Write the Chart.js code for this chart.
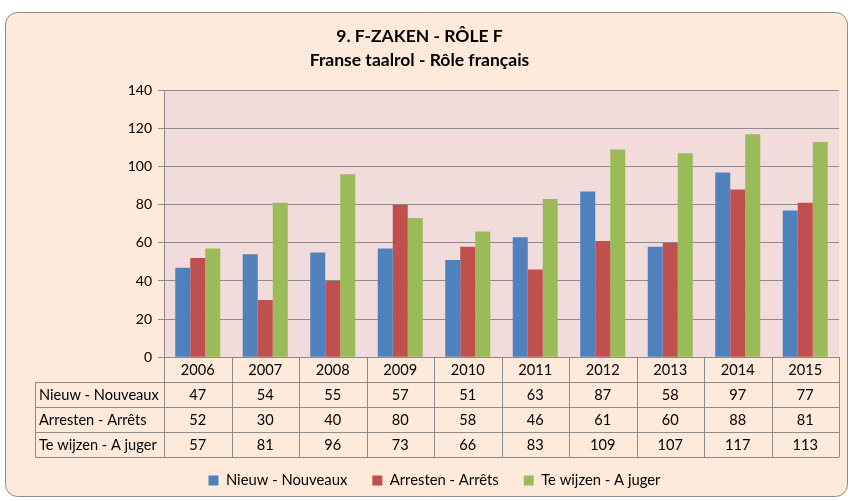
<!DOCTYPE html>
<html>
<head>
<meta charset="utf-8">
<script src="https://cdn.jsdelivr.net/npm/chart.js@4"></script>
<style>
  html, body { margin: 0; padding: 0; background: #fff; }
  #wrap { width: 852px; height: 501px; }
</style>
</head>
<body>
<div id="wrap"><canvas id="fChart" width="852" height="501"></canvas></div>
<script>
const years = ["2006", "2007", "2008", "2009", "2010", "2011", "2012", "2013", "2014", "2015"];
const nieuw = [47, 54, 55, 57, 51, 63, 87, 58, 97, 77];
const arresten = [52, 30, 40, 80, 58, 46, 61, 60, 88, 81];
const teWijzen = [57, 81, 96, 73, 66, 83, 109, 107, 117, 113];
const seriesNames = ["Nieuw - Nouveaux", "Arresten - Arrêts", "Te wijzen - A juger"];
const seriesColors = ["#4F81BD", "#C0504D", "#9BBB59"];

const FONT = "Lato, 'Open Sans', sans-serif";

// fond de la zone + cadre arrondi + zone de tracé rose
const backgroundPlugin = {
    id: "backgroundPlugin",
    afterLayout(chart) {
        // la légende de l'original est un peu décalée à droite
        chart.legend.left += 15;
        chart.legend.right += 15;
    },
    beforeDraw(chart) {
        const c = chart.ctx;
        const a = chart.chartArea;
        c.save();
        c.fillStyle = "#ffffff";
        c.fillRect(0, 0, chart.width, chart.height);
        c.beginPath();
        c.roundRect(5.5, 12.5, 842, 484, 12);
        c.fillStyle = "#FDEADA";
        c.fill();
        c.strokeStyle = "#8c8c8c";
        c.lineWidth = 1;
        c.stroke();
        c.fillStyle = "#F2DCDB";
        c.fillRect(a.left, a.top, a.right - a.left, a.bottom - a.top);
        c.restore();
    }
};

// tableau de données sous l'axe x
const dataTablePlugin = {
    id: "dataTablePlugin",
    afterDraw(chart) {
        const c = chart.ctx;
        const a = chart.chartArea;
        const x = chart.scales.x;
        const colW = (a.right - a.left) / years.length;
        const rowH = 25;
        const top = a.bottom;
        const labelLeft = 35;
        const rows = [nieuw, arresten, teWijzen];
        c.save();
        c.strokeStyle = "#8c8c8c";
        c.lineWidth = 1;
        c.beginPath();
        // lignes horizontales
        for (let r = 1; r <= 4; r++) {
            const y = Math.round(top + r * rowH) + 0.5;
            c.moveTo(labelLeft, y);
            c.lineTo(a.right, y);
        }
        // verticales
        for (let i = 0; i <= years.length; i++) {
            const xx = Math.round(a.left + i * colW) + 0.5;
            c.moveTo(xx, top);
            c.lineTo(xx, top + 4 * rowH);
        }
        c.moveTo(labelLeft + 0.5, top + rowH);
        c.lineTo(labelLeft + 0.5, top + 4 * rowH);
        c.stroke();

        c.fillStyle = "#000";
        c.font = "14.6px " + FONT;
        c.textBaseline = "middle";
        c.textAlign = "center";
        years.forEach(function(yr, i) {
            c.fillText(yr, x.getPixelForValue(i), top + rowH / 2 + 1);
        });
        rows.forEach(function(vals, r) {
            const cy = top + (r + 1) * rowH + rowH / 2 + 1;
            c.textAlign = "left";
            c.fillText(seriesNames[r], labelLeft + 4, cy);
            c.textAlign = "center";
            vals.forEach(function(v, i) {
                c.fillText(String(v), x.getPixelForValue(i), cy);
            });
        });
        c.restore();
    }
};

const datasets = [nieuw, arresten, teWijzen].map(function(vals, i) {
    return {
        label: seriesNames[i],
        data: vals,
        backgroundColor: seriesColors[i],
        borderWidth: 0,
        categoryPercentage: 0.667,
        barPercentage: 1.0
    };
});

new Chart(document.getElementById("fChart").getContext("2d"), {
    type: "bar",
    data: { labels: years, datasets: datasets },
    plugins: [backgroundPlugin, dataTablePlugin],
    options: {
        responsive: false,
        animation: false,
        devicePixelRatio: 1,
        layout: { padding: { left: 0, right: 13, top: 0, bottom: 3 } },
        plugins: {
            title: {
                display: true,
                text: ["9. F-ZAKEN - RÔLE F", "Franse taalrol - Rôle français"],
                color: "#000",
                font: { family: FONT, size: 17.5, weight: "bold", lineHeight: 1.37 },
                padding: { top: 24, bottom: 18.5 }
            },
            legend: {
                display: true,
                position: "bottom",
                labels: {
                    color: "#000",
                    font: { family: FONT, size: 14.8 },
                    boxWidth: 10,
                    boxHeight: 10,
                    padding: 25
                }
            },
            tooltip: { enabled: false }
        },
        scales: {
            x: {
                ticks: { display: false },
                grid: { display: false },
                border: { display: true, color: "#8c8c8c" },
                afterFit: function(scale) { scale.height = 91; }
            },
            y: {
                min: 0,
                max: 140,
                ticks: {
                    stepSize: 20,
                    color: "#000",
                    font: { family: FONT, size: 14 },
                    padding: 6
                },
                grid: { color: "#8c8c8c", tickLength: 6, drawTicks: true },
                border: { display: true, color: "#8c8c8c" },
                afterFit: function(scale) { scale.width = 164; }
            }
        }
    }
});
</script>
</body>
</html>
